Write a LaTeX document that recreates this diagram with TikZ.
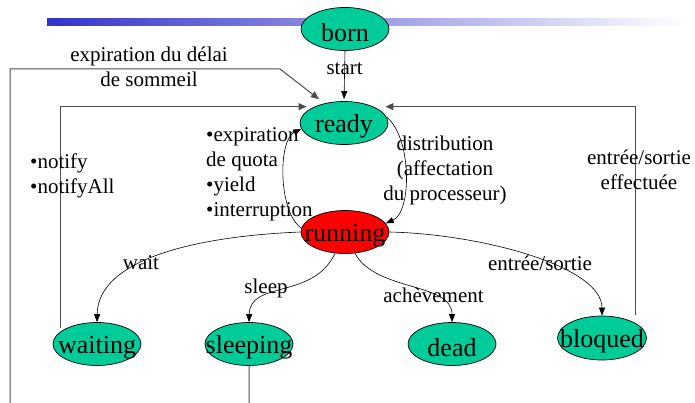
\documentclass[tikz,border=0pt]{standalone}
\usepackage{fontspec}
\setmainfont{Liberation Serif}
\usetikzlibrary{shapes.geometric,arrows.meta,calc}
\definecolor{stategreen}{RGB}{0,204,153}
\definecolor{barblue}{RGB}{51,51,204}
\begin{document}
\begin{tikzpicture}[x=1pt,y=-1pt,
  state/.style={ellipse,draw=black,line width=0.7pt,fill=stategreen,minimum width=88pt,minimum height=43pt,inner sep=0pt},
  statetext/.style={font=\fontsize{26}{30}\selectfont,inner sep=0pt,yshift=-3.5pt},
  lbl/.style={font=\fontsize{21}{25}\selectfont,inner sep=0pt},
  curve/.style={draw=black,line width=0.6pt,-{Triangle[length=8pt,width=6pt]}},
  rectline/.style={draw=black!70,line width=1pt,-{Triangle[length=8pt,width=7pt]}},
]
\useasboundingbox (0,0) rectangle (695,403);
% gradient bar
\shade[left color=barblue,right color=white] (47,19) rectangle (685,26);

% states
\node[state,label={[statetext]center:born}] (born) at (345,29) {};
\node[state,label={[statetext]center:ready}] (ready) at (344,123) {};
\node[state,fill=red,label={[statetext]center:running}] (running) at (345,232) {};
\node[state,label={[statetext]center:waiting}] (waiting) at (97,344) {};
\node[state,label={[statetext]center:sleeping}] (sleeping) at (249,344) {};
\node[state,label={[statetext]center:dead}] (dead) at (452,344) {};
\node[state,minimum width=89pt,minimum height=44pt,label={[statetext]center:bloqued}] (bloqued) at (602,338) {};

% straight connectors
\draw[curve,shorten >=2pt] (born.south) -- (ready.north) node[lbl,pos=0.35] (lstart) {start};
\draw[rectline,shorten >=7pt] (sleeping.south) -- ++(0,60) -| (10,69) -- (280,69) -- (ready.135);
\draw[rectline,shorten >=8pt] ($(waiting.north)+(-37,6)$) |- (ready.151);
\draw[rectline,shorten >=12pt] ($(bloqued.north)+(33,-1)$) |- (ready.29);

% curved connectors
\draw[curve] (running.175) .. controls (278,212) and (278,140) .. (ready.188);
\draw[curve] (ready.8) .. controls (412,138) and (412,212) .. (running.12);
\draw[curve] (running.west) .. controls (200,236) and (98,258) .. (waiting.north);
\draw[curve] (running.245) .. controls (313,300) and (250,280) .. (sleeping.north);
\draw[curve] (running.295) .. controls (376,292) and (452,282) .. (dead.north);
\draw[curve] (running.east) .. controls (480,234) and (602,266) .. (bloqued.north);

% labels
\node[lbl,align=center] (lsommeil) at (149,67) {expiration du délai\\de sommeil};
\node[lbl,align=left,anchor=west] (lnotify) at (30,176) {•notify\\•notifyAll};
\node[lbl,align=left,anchor=west] (lquota) at (206,174.5) {•expiration\\de quota\\•yield\\•interruption};
\node[lbl,align=center] (ldistrib) at (445,170) {distribution\\(affectation\\du processeur)};
\node[lbl,align=center] (leffect) at (639,169.5) {entrée/sortie\\effectuée};
\node[lbl] (lwait) at (141,263) {wait};
\node[lbl] (lsleep) at (266,288) {sleep};
\node[lbl] (lach) at (433.5,295) {achèvement};
\node[lbl] (lentree) at (540,263) {entrée/sortie};
\end{tikzpicture}
\end{document}
